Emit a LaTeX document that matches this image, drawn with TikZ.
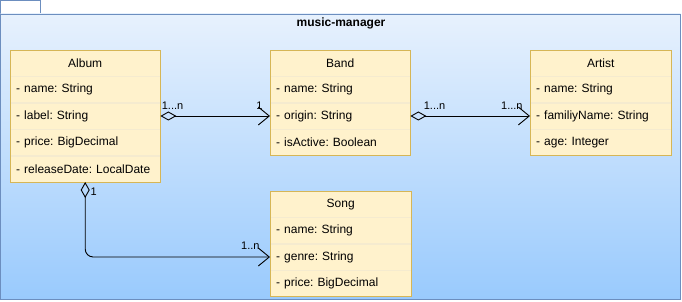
\documentclass[tikz,border=0pt]{standalone}
\usepackage{fontspec}
\setmainfont{Liberation Sans}
\usepackage{xcolor}
\usetikzlibrary{arrows.meta,positioning}
\frenchspacing

\definecolor{pkgline}{HTML}{6C8EBF}
\definecolor{pkgtop}{HTML}{E7F1FD}
\definecolor{pkgbottom}{HTML}{99CAFD}
\definecolor{clsfill}{HTML}{FFF2CC}
\definecolor{clsline}{HTML}{D6B656}
\definecolor{rowline}{HTML}{F5EBCF}

\begin{document}
\begin{tikzpicture}[
    x=1pt, y=-1pt,
    node distance=0pt,
    cls/.style={draw=clsline, fill=clsfill, minimum width=#1, minimum height=26pt,
                inner sep=0pt, font=\fontsize{12}{14}\selectfont},
    attr/.style={draw=rowline, fill=clsfill, text width=#1, minimum height=26pt,
                 inner xsep=6pt, inner ysep=0pt, align=left, font=\fontsize{12}{14}\selectfont},
    agg/.style={draw, line width=0.9pt,
                {Diamond[open,length=16pt,width=9pt]}-{Straight Barb[length=11pt,width=18pt]}},
    mult/.style={font=\fontsize{11}{13}\selectfont, inner sep=1pt}
  ]
  \useasboundingbox (0,0) rectangle (682,302);

  %% Package frame with tab
  \draw[pkgline, fill=white] (0.5,0.5) rectangle (40.5,14);
  \draw[pkgline, top color=pkgtop, bottom color=pkgbottom] (0.5,14) rectangle (680.5,299.5);
  \node (title) at (341,23) {\fontsize{12}{14}\selectfont\bfseries music-manager};

  %% Album
  \node (album) [cls=150pt, anchor=north west] at (10,50) {Album};
  \node (album-name)  [attr=138pt, below=of album]       {- name: String};
  \node (album-label) [attr=138pt, below=of album-name]  {- label: String};
  \node (album-price) [attr=138pt, below=of album-label] {- price: BigDecimal};
  \node (album-date)  [attr=138pt, below=of album-price] {- releaseDate: LocalDate};
  \draw[clsline] (album.north west) rectangle (album-date.south east);

  %% Band
  \node (band) [cls=140pt, anchor=north west] at (270,50) {Band};
  \node (band-name)   [attr=128pt, below=of band]        {- name: String};
  \node (band-origin) [attr=128pt, below=of band-name]   {- origin: String};
  \node (band-active) [attr=128pt, below=of band-origin] {- isActive: Boolean};
  \draw[clsline] (band.north west) rectangle (band-active.south east);

  %% Artist
  \node (artist) [cls=141pt, anchor=north west] at (530,50) {Artist};
  \node (artist-name)   [attr=129pt, below=of artist]        {- name: String};
  \node (artist-family) [attr=129pt, below=of artist-name]   {- familiyName: String};
  \node (artist-age)    [attr=129pt, below=of artist-family] {- age: Integer};
  \draw[clsline] (artist.north west) rectangle (artist-age.south east);

  %% Song
  \node (song) [cls=141pt, anchor=north west] at (270,191) {Song};
  \node (song-name)  [attr=129pt, below=of song]       {- name: String};
  \node (song-genre) [attr=129pt, below=of song-name]  {- genre: String};
  \node (song-price) [attr=129pt, below=of song-genre] {- price: BigDecimal};
  \draw[clsline] (song.north west) rectangle (song-price.south east);

  %% Aggregations
  \draw[agg] (album-label.east) -- (band-origin.west)
    node (ab-from) [mult, pos=0, above right, yshift=5pt] {1...n}
    node (ab-to)   [mult, pos=1, above left, xshift=-6pt, yshift=5pt] {1};
  \draw[agg] (band-origin.east) -- (artist-family.west)
    node (ba-from) [mult, pos=0, above right, xshift=12pt, yshift=5pt] {1...n}
    node (ba-to)   [mult, pos=1, above left, xshift=-6pt, yshift=5pt] {1...n};
  \draw[agg, rounded corners=8pt] (album-date.south) |- (song-genre.west)
    node (as-from) [mult, pos=0, below right, xshift=4pt, yshift=-4pt] {1}
    node (as-to)   [mult, pos=1, above left, xshift=-9pt, yshift=6pt] {1..n};

\end{tikzpicture}
\end{document}
